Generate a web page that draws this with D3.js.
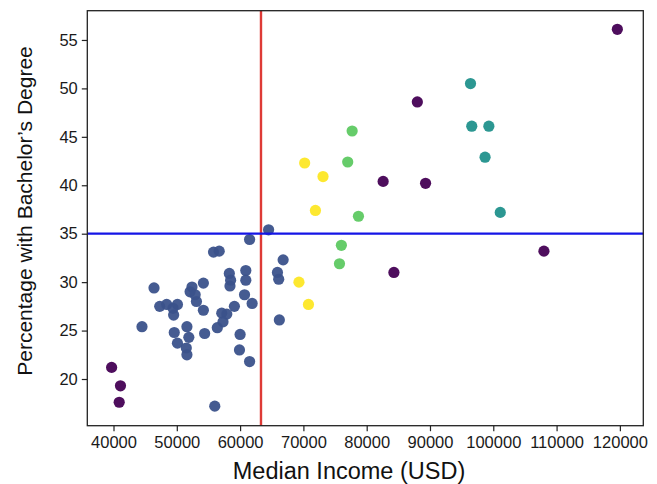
<!DOCTYPE html>
<html>
<head>
<meta charset="utf-8">
<script src="https://cdn.jsdelivr.net/npm/d3@7"></script>
<style>
	body { margin: 0; background: #fff; }
	#container { width: 657px; height: 484px; }
	.tick text { font-family: "Liberation Sans", Arial, sans-serif; }
</style>
</head>
<body>
<div id="container"></div>
<script>
// Income (USD) and % with bachelor's degree, one array per cluster
var cluster0 = [[39700, 21.2], [41100, 19.3], [40900, 17.6], [88000, 48.6], [82600, 40.4],
	[89300, 40.2], [84300, 31.0], [119600, 56.1], [108000, 33.2]];
var cluster1 = [[64500, 35.4], [61500, 34.4], [55800, 33.1], [56700, 33.2], [58300, 30.9],
	[58500, 30.2], [58400, 29.6], [60900, 31.2], [60900, 30.2], [46400, 29.4],
	[54200, 29.9], [52400, 29.5], [52100, 29.0], [52900, 28.7], [53100, 28.0],
	[54200, 27.1], [60700, 28.7], [61900, 27.8], [59100, 27.5], [47300, 27.5],
	[48400, 27.7], [50100, 27.7], [49400, 27.3], [49500, 26.6], [57100, 26.8],
	[57900, 26.7], [57300, 25.9], [56400, 25.3], [44500, 25.4], [51600, 25.4],
	[49600, 24.8], [51900, 24.3], [54400, 24.7], [60000, 24.6], [50100, 23.7],
	[51500, 23.2], [51600, 22.5], [59900, 23.0], [61500, 21.8], [56000, 17.2],
	[66800, 32.3], [65900, 31.0], [66100, 30.3], [66200, 26.1]];
var cluster2 = [[96400, 50.5], [96600, 46.1], [99300, 46.1], [98700, 42.9], [101100, 37.2]];
var cluster3 = [[77700, 45.6], [77000, 42.4], [78700, 36.8], [76000, 33.8], [75700, 31.9]];
var cluster4 = [[70200, 42.3], [73100, 40.9], [71900, 37.4], [69300, 30.0], [70800, 27.7]];

var xTicks = [40000, 50000, 60000, 70000, 80000, 90000, 100000, 110000, 120000];
var yTicks = [20, 25, 30, 35, 40, 45, 50, 55];

// reference lines
var incomeCut = 63300;
var degreeCut = 35;

function makeChart(){
	var w = 657;
	var h = 484;
	var left = 87.3, right = 643.3, top = 10.7, bottom = 425.7;

	var svg = d3.select('#container')
		.append('svg')
		.attr('width', w)
		.attr('height', h);

	var xScale = d3.scaleLinear()
		.domain([35860, 123700])
		.range([left, right]);
	var yScale = d3.scaleLinear()
		.domain([15.18, 58.02])
		.range([bottom, top]);
	var colorScale = d3.scaleSequential(d3.interpolateViridis)
		.domain([0, 4]);

	var points = [];
	[cluster0, cluster1, cluster2, cluster3, cluster4].forEach(function(list, k){
		list.forEach(function(p){
			points.push({ income: p[0], pct: p[1], cluster: k });
		});
	});

	svg.append('g')
		.selectAll('circle')
		.data(points)
		.enter()
		.append('circle')
		.attr('cx', function(d){ return xScale(d.income); })
		.attr('cy', function(d){ return yScale(d.pct); })
		.attr('r', 5.6)
		.attr('fill', function(d){ return colorScale(d.cluster); })
		.attr('fill-opacity', 0.95);

	// threshold lines
	svg.append('line')
		.attr('x1', xScale(incomeCut)).attr('x2', xScale(incomeCut))
		.attr('y1', top).attr('y2', bottom)
		.attr('stroke', '#de3a36')
		.attr('stroke-width', 2.4);
	svg.append('line')
		.attr('x1', left).attr('x2', right)
		.attr('y1', yScale(degreeCut)).attr('y2', yScale(degreeCut))
		.attr('stroke', '#1515e6')
		.attr('stroke-width', 2.2);

	var xAxis = svg.append('g')
		.attr('transform', 'translate(0,' + bottom + ')')
		.call(d3.axisBottom(xScale).tickValues(xTicks).tickFormat(d3.format('d')).tickSize(5.5).tickPadding(5));
	var yAxis = svg.append('g')
		.attr('transform', 'translate(' + left + ',0)')
		.call(d3.axisLeft(yScale).tickValues(yTicks).tickSize(5.5).tickPadding(4));

	[xAxis, yAxis].forEach(function(g){
		g.select('.domain').remove();
		g.selectAll('.tick line').attr('stroke', '#222').attr('stroke-width', 1.2);
		g.selectAll('.tick text')
			.attr('font-size', '16.5px')
			.attr('fill', '#1a1a1a');
	});

	// frame
	svg.append('rect')
		.attr('x', left).attr('y', top)
		.attr('width', right - left).attr('height', bottom - top)
		.attr('fill', 'none')
		.attr('stroke', '#222')
		.attr('stroke-width', 1.3);

	svg.append('text')
		.text('Median Income (USD)')
		.attr('x', 349)
		.attr('y', 479)
		.attr('text-anchor', 'middle')
		.attr('font-family', '"Liberation Sans", Arial, sans-serif')
		.attr('font-size', '23.5px')
		.attr('fill', '#111');

	svg.append('text')
		.text('Percentage with Bachelor\u2019s Degree')
		.attr('transform', 'translate(32,211) rotate(-90)')
		.attr('text-anchor', 'middle')
		.attr('font-family', '"Liberation Sans", Arial, sans-serif')
		.attr('font-size', '21px')
		.attr('fill', '#111');
}

makeChart();
</script>
</body>
</html>
